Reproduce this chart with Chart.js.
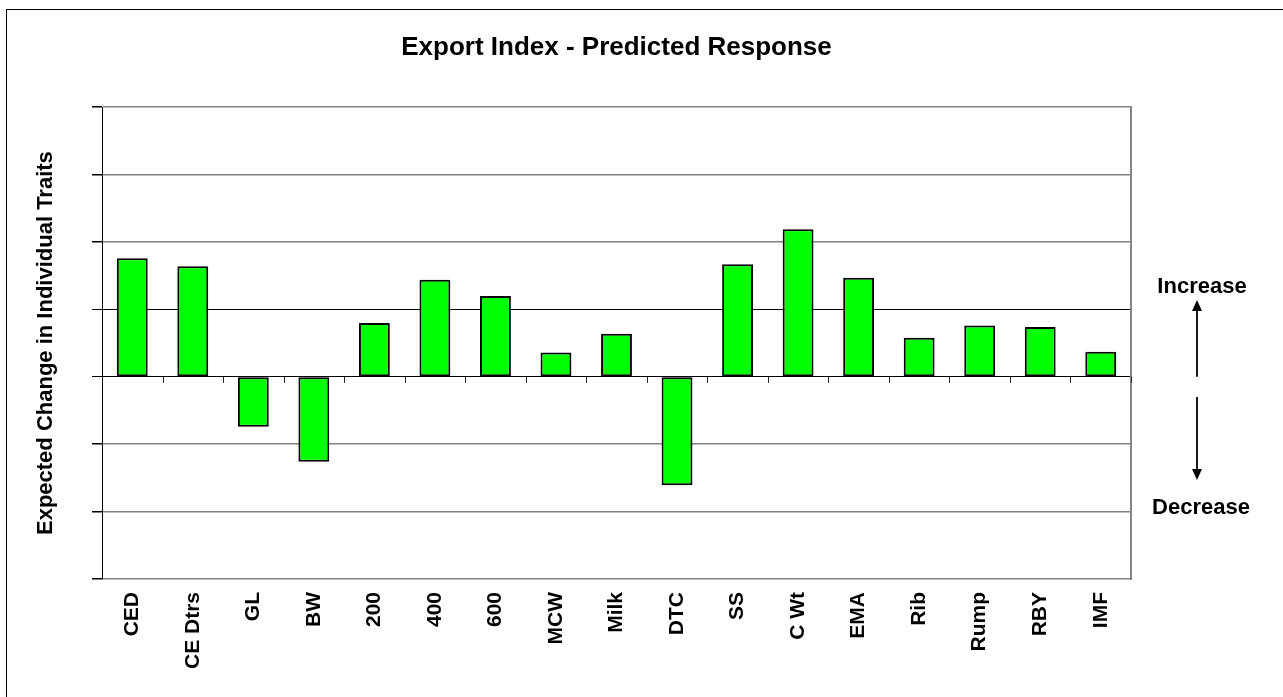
<!DOCTYPE html>
<html>
<head>
<meta charset="utf-8">
<script src="https://cdn.jsdelivr.net/npm/chart.js@4.4.0/dist/chart.umd.min.js"></script>
<style>
html,body{margin:0;padding:0;background:#fff;overflow:hidden;}
#wrap{width:1283px;height:697px;position:relative;}
</style>
</head>
<body>
<div id="wrap"><canvas id="c" width="1283" height="697"></canvas></div>
<script>
const categories = ["CED","CE Dtrs","GL","BW","200","400","600","MCW","Milk","DTC","SS","C Wt","EMA","Rib","Rump","RBY","IMF"];
const values = [1.76,1.64,-0.74,-1.26,0.80,1.44,1.20,0.36,0.64,-1.61,1.67,2.19,1.47,0.58,0.76,0.74,0.37];
const yTicks = [-3,-2,-1,0,1,2,3,4];
const titleText = "Export Index - Predicted Response";
const yTitleText = "Expected Change in Individual Traits";
const upLabel = "Increase";
const downLabel = "Decrease";

const FONT = "'Liberation Sans', Arial, sans-serif";

const decor = {
  id: 'decor',
  beforeDraw(chart) {
    const ctx = chart.ctx;
    ctx.save();
    ctx.fillStyle = '#fff';
    ctx.fillRect(0, 0, chart.width, chart.height);
    ctx.strokeStyle = '#000';
    ctx.lineWidth = 1;
    ctx.strokeRect(6.5, 9.5, chart.width + 20, chart.height + 20);
    ctx.restore();
  },
  afterDatasetsDraw(chart) {
    const ctx = chart.ctx;
    const a = chart.chartArea;
    const x = chart.scales.x, y = chart.scales.y;
    const y0 = y.getPixelForValue(0);
    ctx.save();
    // right border
    ctx.strokeStyle = '#858585';
    ctx.lineWidth = 2;
    ctx.beginPath();
    ctx.moveTo(a.right, a.top - 1);
    ctx.lineTo(a.right, a.bottom + 1);
    ctx.stroke();
    // category tick marks at zero line
    ctx.strokeStyle = '#222';
    ctx.lineWidth = 1;
    const half = (x.getPixelForValue(1) - x.getPixelForValue(0)) / 2;
    for (let i = 0; i < categories.length; i++) {
      const px = Math.round(x.getPixelForValue(i) + half) + 0.5;
      ctx.beginPath();
      ctx.moveTo(px, y0);
      ctx.lineTo(px, y0 + 6);
      ctx.stroke();
    }
    // annotations
    const ax = a.right + 66;
    ctx.fillStyle = '#000';
    ctx.font = "bold 22px " + FONT;
    ctx.textAlign = 'center';
    ctx.textBaseline = 'middle';
    ctx.fillText(upLabel, ax + 5, y.getPixelForValue(1.33));
    ctx.fillText(downLabel, ax + 4, y.getPixelForValue(-1.94));
    ctx.strokeStyle = '#000';
    ctx.lineWidth = 1.8;
    const upTop = y.getPixelForValue(1.14);
    ctx.beginPath(); ctx.moveTo(ax, y0); ctx.lineTo(ax, upTop + 8); ctx.stroke();
    ctx.beginPath(); ctx.moveTo(ax, upTop); ctx.lineTo(ax - 5, upTop + 11); ctx.lineTo(ax + 5, upTop + 11); ctx.closePath(); ctx.fill();
    const dnTop = y.getPixelForValue(-0.3);
    const dnBot = y.getPixelForValue(-1.53);
    ctx.beginPath(); ctx.moveTo(ax, dnTop); ctx.lineTo(ax, dnBot - 8); ctx.stroke();
    ctx.beginPath(); ctx.moveTo(ax, dnBot); ctx.lineTo(ax - 5, dnBot - 11); ctx.lineTo(ax + 5, dnBot - 11); ctx.closePath(); ctx.fill();
    ctx.restore();
  }
};

new Chart(document.getElementById('c'), {
  type: 'bar',
  data: {
    labels: categories,
    datasets: [{
      data: values,
      backgroundColor: '#00ff00',
      borderColor: '#000',
      borderWidth: 2,
      borderSkipped: false,
      barPercentage: 0.51,
      categoryPercentage: 1.0
    }]
  },
  options: {
    responsive: false,
    animation: false,
    devicePixelRatio: 1,
    layout: { padding: { left: 0, right: 152, top: 0, bottom: 0 } },
    plugins: {
      legend: { display: false },
      tooltip: { enabled: false },
      title: {
        display: true,
        text: titleText,
        fullSize: false,
        color: '#000',
        font: { family: FONT, size: 26, weight: 'bold', lineHeight: 1.2 },
        padding: { top: 32, bottom: 44 }
      }
    },
    scales: {
      x: {
        grid: { display: false, drawTicks: false },
        border: { display: false },
        ticks: {
          color: '#000',
          font: { family: FONT, size: 21, weight: 'bold' },
          minRotation: 90, maxRotation: 90,
          padding: 13,
          autoSkip: false
        },
        afterFit(s) { s.height = 118; }
      },
      y: {
        min: -3, max: 4,
        afterBuildTicks(s) { s.ticks = yTicks.map(v => ({ value: v })); },
        grid: {
          color: (c) => (c.tick && (c.tick.value === 0 || c.tick.value === 1)) ? '#000' : '#808080',
          lineWidth: (c) => (c.tick && (c.tick.value === 0 || c.tick.value === 1)) ? 1 : 1.5,
          tickColor: '#000',
          tickLength: 10,
          drawTicks: true
        },
        border: { display: true, color: '#000', width: 1 },
        ticks: { display: false },
        title: {
          display: true,
          text: yTitleText,
          color: '#000',
          font: { family: FONT, size: 22, weight: 'bold', lineHeight: 1.2 },
          padding: { top: 33, bottom: 0 }
        },
        afterFit(s) { s.width = 102; }
      }
    }
  },
  plugins: [decor]
});
</script>
</body>
</html>
